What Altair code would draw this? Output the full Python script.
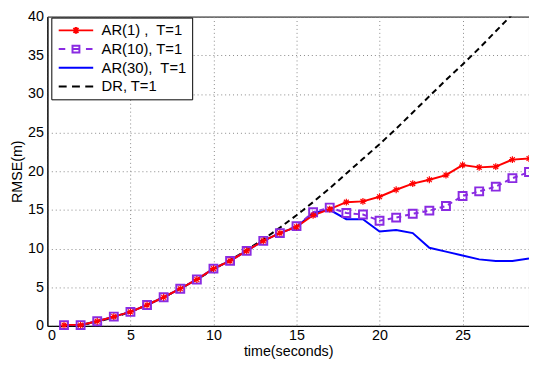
import altair as alt
import pandas as pd

# ---- data ----
t = list(range(1, 30))
ar1 = [0.1, 0.1, 0.6, 1.2, 1.8, 2.7, 3.7, 4.8, 6.0, 7.4, 8.4, 9.7, 11.0, 12.0, 12.8,
       14.3, 15.1, 16.0, 16.1, 16.7, 17.6, 18.4, 18.9, 19.5, 20.8, 20.5, 20.6, 21.5, 21.65]
ar10 = [0.1, 0.1, 0.6, 1.2, 1.8, 2.7, 3.7, 4.8, 6.0, 7.4, 8.4, 9.7, 11.0, 12.0, 12.9,
        14.7, 15.3, 14.6, 14.4, 13.6, 14.0, 14.5, 14.9, 15.5, 16.8, 17.4, 18.0, 19.1, 19.9]
ar30 = [0.1, 0.1, 0.6, 1.2, 1.8, 2.7, 3.7, 4.8, 6.0, 7.4, 8.4, 9.7, 11.0, 12.0, 12.8,
        14.6, 15.0, 13.8, 13.8, 12.2, 12.4, 12.0, 10.1, 9.6, 9.1, 8.6, 8.4, 8.4, 8.7]
dr = [0.0, 0.1, 0.5, 1.1, 1.8, 2.7, 3.7, 4.8, 6.0, 7.3, 8.5, 9.8, 11.2, 12.7, 14.3,
      16.0, 17.8, 19.7, 21.6, 23.5, 25.5, 27.6, 29.7, 31.8, 33.8, 35.9, 38.1, 40.3, 42.5]

labels = ["AR(1)\u00a0,\u00a0 T=1", "AR(10), T=1", "AR(30),\u00a0 T=1", "DR, T=1"]
colors = ["#ff0000", "#8a2be2", "#0000ff", "#000000"]
x_ticks = [0, 5, 10, 15, 20, 25]
y_ticks = [0, 5, 10, 15, 20, 25, 30, 35, 40]

rows = []
for name, vals in zip(labels, [ar1, ar10, ar30, dr]):
    for ti, v in zip(t, vals):
        rows.append({"t": ti, "rmse": v, "series": name})
df = pd.DataFrame(rows)

FONT = "Liberation Sans"

ASTER = "M-1,0H1M0,-1V1M-0.7,-0.7L0.7,0.7M-0.7,0.7L0.7,-0.7"
# legend glyphs: 1 unit = 7 px (symbolSize 196)
legend_paths = [
    "M-2.5,0H2.5M-0.5,0H0.5M0,-0.5V0.5M-0.36,-0.36L0.36,0.36M-0.36,0.36L0.36,-0.36",
    "M-2.5,0H-1.55M1.45,0H2.4M-0.5,0H0.5M-0.5,-0.5H0.5V0.5H-0.5Z",
    "M-2.5,0H2.5",
    "M-2.5,0H-1.35M-0.57,0H0.57M1.35,0H2.5",
]

x = alt.X("t:Q", scale=alt.Scale(domain=[0, 29], nice=False, zero=False),
          axis=alt.Axis(values=x_ticks, title="time(seconds)", format="d"))
y = alt.Y("rmse:Q", scale=alt.Scale(domain=[0, 40], nice=False),
          axis=alt.Axis(values=y_ticks, title="RMSE(m)", format="d"))

base = alt.Chart(df)


def line(i, dash=None):
    kw = dict(color=colors[i], strokeWidth=2, clip=True)
    if dash:
        kw["strokeDash"] = dash
    return base.transform_filter(alt.datum.series == labels[i]).mark_line(**kw).encode(x=x, y=y)


l_dr = line(3, [6, 4])
l_ar30 = line(2)
l_ar10 = line(1, [5, 4])
l_ar1 = line(0)

p_ar10 = base.transform_filter(alt.datum.series == labels[1]).mark_point(
    shape="square", size=64, filled=False, color=colors[1], strokeWidth=2, opacity=1
).encode(x=x, y=y)
p_ar1 = base.transform_filter(alt.datum.series == labels[0]).mark_point(
    shape=ASTER, size=49, filled=False, color=colors[0], strokeWidth=1.2, opacity=1
).encode(x=x, y=y)

leg = alt.Legend(title=None, orient="none", legendX=4, legendY=1,
                 strokeColor="black", fillColor="white", padding=5,
                 symbolSize=196, symbolStrokeWidth=2, symbolFillColor="transparent",
                 symbolOffset=12,
                 labelFont=FONT, labelFontSize=15, labelColor="black",
                 labelOffset=18, rowPadding=3)

legend_layer = base.transform_filter("false").mark_point(
    filled=False, strokeWidth=2, opacity=1
).encode(
    color=alt.Color("series:N", scale=alt.Scale(domain=labels, range=colors), legend=leg),
    shape=alt.Shape("series:N", scale=alt.Scale(domain=labels, range=legend_paths), legend=leg),
)

chart = alt.layer(l_dr, l_ar30, l_ar10, l_ar1, p_ar10, p_ar1, legend_layer).properties(
    width=489, height=314,
    autosize=alt.AutoSizeParams(type="none"),
    padding={"left": 40, "top": 6, "right": 0, "bottom": 36},
).configure_axis(
    labelFont=FONT, labelFontSize=14.5, labelColor="black",
    titleFont=FONT, titleFontSize=14.5, titleFontWeight="normal", titleColor="black",
    domainColor="black", domainWidth=1, ticks=False,
    grid=True, gridDash=[1, 3], gridColor="#888888", gridOpacity=1, gridWidth=1,
).configure_axisY(titlePadding=3, labelPadding=4).configure_axisX(
    titlePadding=3, labelPadding=3
).configure_view(
    stroke="black", strokeWidth=1
)

chart.save("out.html", embed_options={"renderer": "svg", "actions": False})
